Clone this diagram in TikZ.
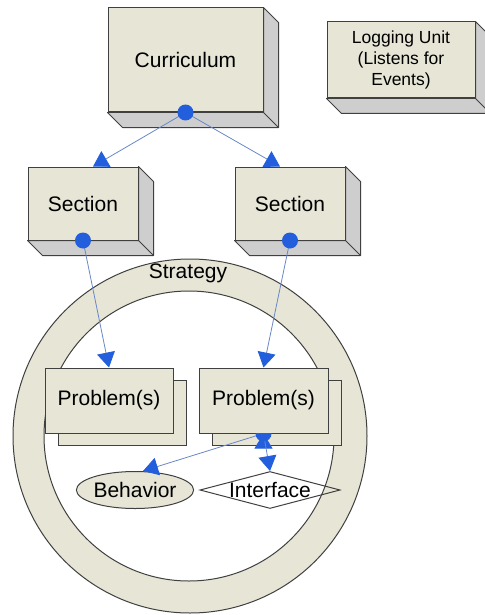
\documentclass[tikz,border=0pt]{standalone}
\usepackage{fontspec}
\setmainfont{Liberation Sans}
\usetikzlibrary{arrows.meta}
\usetikzlibrary{positioning}
\usetikzlibrary{shapes.geometric}
\usetikzlibrary{shadows}
\usetikzlibrary{calc}

\definecolor{facebeige}{RGB}{230,229,214}
\definecolor{sidegray}{RGB}{206,206,206}
\definecolor{dotblue}{RGB}{35,95,220}
\definecolor{lineblue}{RGB}{105,135,200}

\tikzset{
  block/.style={rectangle,draw=black!75,line width=1pt,fill=facebeige,
    font=\fontsize{21}{24}\selectfont,inner sep=0pt},
  stack/.style={block,copy shadow={shadow xshift=13pt,shadow yshift=-12pt}},
  link/.style={draw=lineblue,line width=0.8pt,
    -{Triangle[width=18pt,length=15pt,color=dotblue]}},
  dot/.style={circle,fill=dotblue,inner sep=0pt,minimum size=16pt},
}
\newcommand{\extrude}[1]{%
  \filldraw[draw=black!75,line width=1pt,fill=sidegray,line join=round]
    (#1.north east) -- ++(15,15) -- ($(#1.south east)+(15,15)$) -- (#1.south east) -- cycle
    (#1.south west) -- (#1.south east) -- ($(#1.south east)+(15,15)$) -- ($(#1.south west)+(15,15)$) -- cycle;}

\begin{document}
\begin{tikzpicture}[x=1pt,y=-1pt]
  \useasboundingbox (0,0) rectangle (484,615);

  % strategy ring
  \filldraw[fill=facebeige,draw=black!75,line width=1pt,even odd rule]
    (190,436) circle (177pt) (189,436) circle (145pt);
  \node[font=\fontsize{21}{24}\selectfont] (strat) at (188,273) {Strategy};

  % 3d boxes
  \node[block,minimum width=155pt,minimum height=104pt] (curr) at (185.5,60) {Curriculum};
  \extrude{curr}
  \node[block,minimum width=148pt,minimum height=76pt,align=center,
        font=\fontsize{17.5}{21}\selectfont] (log) at (401,60) {Logging Unit\\(Listens for\\Events)};
  \extrude{log}
  \node[block,minimum width=110pt,minimum height=73pt] (secL) at (83,203.5) {Section};
  \extrude{secL}
  \node[block,minimum width=110pt,minimum height=73pt] (secR) at (290,203.5) {Section};
  \extrude{secR}

  \node[stack,minimum width=128pt,minimum height=65pt] (probL) at (109,400.5) {Problem(s)};
  \node[stack,minimum width=129pt,minimum height=65pt] (probR) at (263.5,400.5) {Problem(s)};

  \node[block,ellipse,minimum width=116pt,minimum height=37pt] (beh) at (135,490) {Behavior};
  \node[block,diamond,aspect=3.8,minimum width=140pt,minimum height=37pt,fill=none] (intf) at (270,490) {Interface};

  \path[link]
    (curr.south) edge ([xshift=10pt]secL.north)
    (curr.south) edge ([xshift=-10pt]secR.north)
    (secL.south) edge (probL.north)
    (secR.south) edge (probR.north)
    (probR.south) edge ([xshift=8pt]beh.north)
    (probR.south) edge (intf.north);

  \node[dot] (d_curr) at (curr.south) {};
  \node[dot] (d_secL) at (secL.south) {};
  \node[dot] (d_secR) at (secR.south) {};
  % half hidden behind the front face
  \begin{scope}
    \clip ([xshift=-20pt]probR.south) rectangle ++(40,20);
    \node[dot] (d_prob) at (probR.south) {};
  \end{scope}
\end{tikzpicture}
\end{document}
